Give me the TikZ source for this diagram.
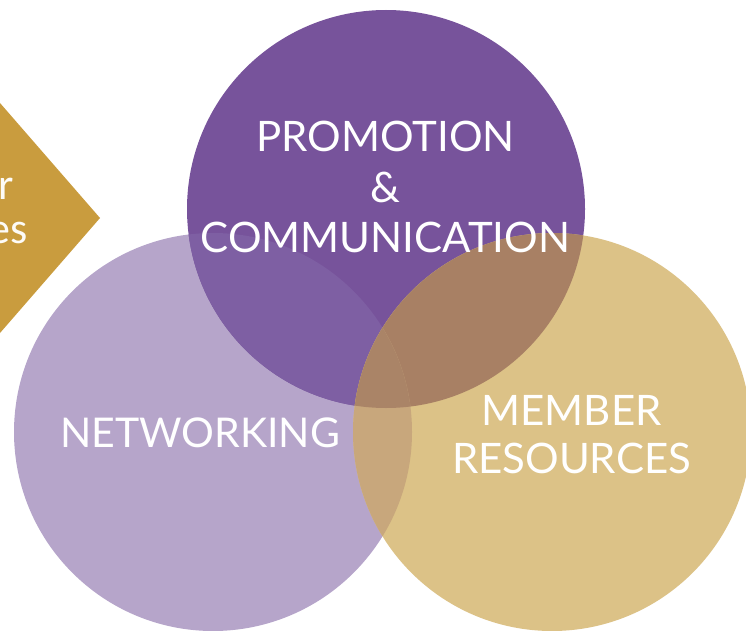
\documentclass[tikz,border=0pt]{standalone}
\usepackage{fontspec}
\setmainfont{Lato}
\newfontfamily\diafont{Carlito}
\definecolor{cPur}{HTML}{77539B}
\definecolor{cLav}{HTML}{B6A5CA}
\definecolor{cGold}{HTML}{DCC287}
\definecolor{cPL}{HTML}{7E5FA3}
\definecolor{cGP}{HTML}{A88064}
\definecolor{cGL}{HTML}{C8A77C}
\definecolor{cGPL}{HTML}{AA8467}
\definecolor{cDia}{HTML}{C99C3E}
\tikzset{
  lbl/.style={text=white, font=\fontsize{42}{42}\selectfont, anchor=base, inner sep=0pt},
  dlbl/.style={text=white!96!cDia, font=\diafont\fontsize{44}{44}\selectfont, anchor=base east, inner sep=0pt},
}
\begin{document}
\begin{tikzpicture}[x=1pt,y=-1pt]
\useasboundingbox (0,0) rectangle (746,631);
\begin{scope}
\clip (0,0) rectangle (746,631);
% diamond
\fill[cDia] (-20,80) -- (100,218) -- (-20,356) -- cycle;
\node[dlbl] (d1) at (14,200) {r};
\node[dlbl] (d2) at (28,243) {es};
% circles
\def\cP{(386,209) circle[radius=199]}
\def\cL{(213,432) circle[radius=199]}
\def\cG{(552,432) circle[radius=199]}
\fill[cLav] \cL;
\fill[cPur] \cP;
\begin{scope}\clip \cL; \fill[cPL] \cP; \end{scope}
\fill[cGold] \cG;
\begin{scope}\clip \cG; \fill[cGP] \cP; \end{scope}
\begin{scope}\clip \cG; \fill[cGL] \cL; \end{scope}
\begin{scope}\clip \cG; \clip \cL; \fill[cGPL] \cP; \end{scope}
\end{scope}
\node[lbl] (p1) at (385.5,152) {PROMOTION};
\node[lbl] (p2) at (385.5,202) {\&};
\node[lbl] (p3) at (385.5,252) {COMMUNICATION};
\node[lbl, font=\fontsize{41}{41}\selectfont] (n1) at (200,447) {NETWORKING};
\node[lbl] (m1) at (571.5,425) {MEMBER};
\node[lbl] (m2) at (571.5,473) {RESOURCES};
\end{tikzpicture}
\end{document}
